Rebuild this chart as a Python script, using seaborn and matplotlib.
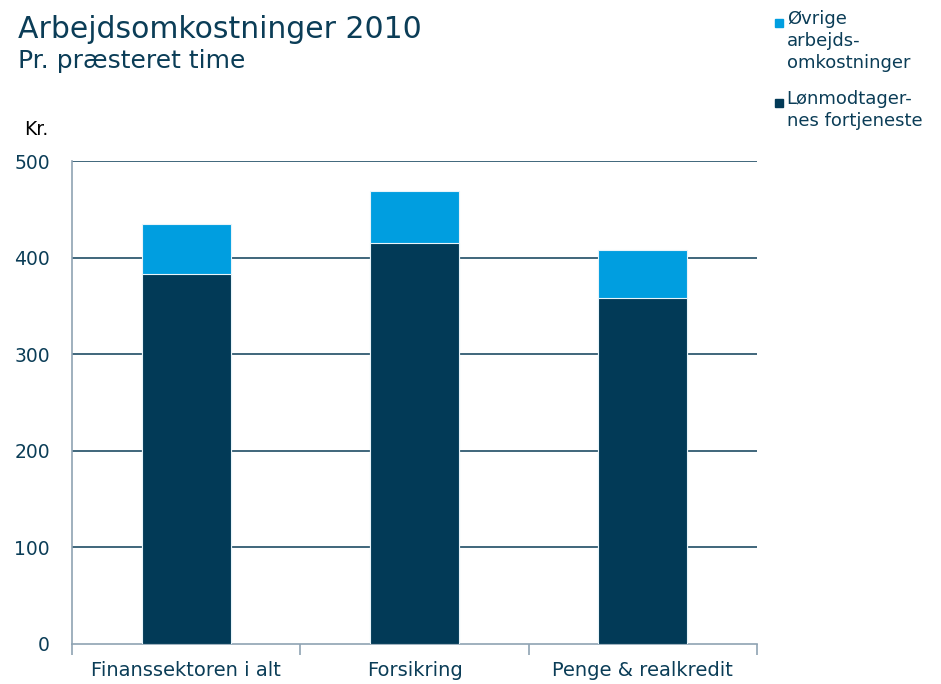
import numpy as np
import pandas as pd
import matplotlib.pyplot as plt
import seaborn as sns
from matplotlib.patches import Rectangle

# Data (kr. pr. præsteret time)
categories = ["Finanssektoren i alt", "Forsikring", "Penge & realkredit"]
loen = [383, 415, 358]      # Lønmodtagernes fortjeneste
oevrige = [52, 54, 50]      # Øvrige arbejdsomkostninger
legend_labels = ["Øvrige\narbejds-\nomkostninger", "Lønmodtager-\nnes fortjeneste"]

dark = "#023a57"
light = "#009ee0"
text_col = "#0b3d57"
spine_col = "#8fa3b3"

df = pd.DataFrame({"kategori": categories, "loen": loen, "oevrige": oevrige})
df["total"] = df["loen"] + df["oevrige"]

sns.set_style("white")
plt.rcParams["font.family"] = ["DejaVu Sans"]

fig = plt.figure(figsize=(9.41, 6.84), dpi=100)
ax = fig.add_axes([0.0765, 0.0585, 0.728, 0.706])

# gridlines behind bars
for v in [100, 200, 300, 400, 500]:
    ax.axhline(v, color=text_col, lw=1.1, zorder=0)

sns.barplot(data=df, x="kategori", y="total", color=light, width=0.39,
            edgecolor="#e8f4fa", linewidth=0.8, saturation=1, ax=ax, zorder=2)
sns.barplot(data=df, x="kategori", y="loen", color=dark, width=0.39,
            edgecolor="#e8f4fa", linewidth=0.8, saturation=1, ax=ax, zorder=3)

ax.set_ylim(0, 500)
ax.set_xlim(-0.5, 2.5)
ax.set_yticks([0, 100, 200, 300, 400, 500])
ax.set_xlabel("")
ax.set_ylabel("")

for s in ["top", "right"]:
    ax.spines[s].set_visible(False)
for s in ["left", "bottom"]:
    ax.spines[s].set_color(spine_col)
    ax.spines[s].set_linewidth(1.2)

ax.tick_params(axis="y", length=0, labelsize=13.5, labelcolor=text_col, pad=16)
ax.tick_params(axis="x", which="major", length=0, labelsize=14, labelcolor=text_col, pad=12)
ax.set_xticks([-0.5, 0.5, 1.5, 2.5], minor=True)
ax.tick_params(axis="x", which="minor", bottom=True, length=8, color=spine_col,
               width=1.2, direction="out")

fig.text(0.019, 0.945, "Arbejdsomkostninger 2010", fontsize=21.5, color=text_col, va="baseline")
fig.text(0.019, 0.900, "Pr. præsteret time", fontsize=18, color=text_col, va="baseline")
fig.text(0.026, 0.803, "Kr.", fontsize=13.5, color="black", va="baseline")

# legend, markers aligned to first text line
leg_y = [0.985, 0.868]
for col, lab, y in zip([light, dark], legend_labels, leg_y):
    fig.patches.append(Rectangle((0.8235, y - 0.0245), 0.0088, 0.012,
                                 transform=fig.transFigure, color=col, figure=fig))
    fig.text(0.836, y, lab, fontsize=13, color=text_col, va="top", linespacing=1.28)

fig.savefig("out.png", dpi=100)
